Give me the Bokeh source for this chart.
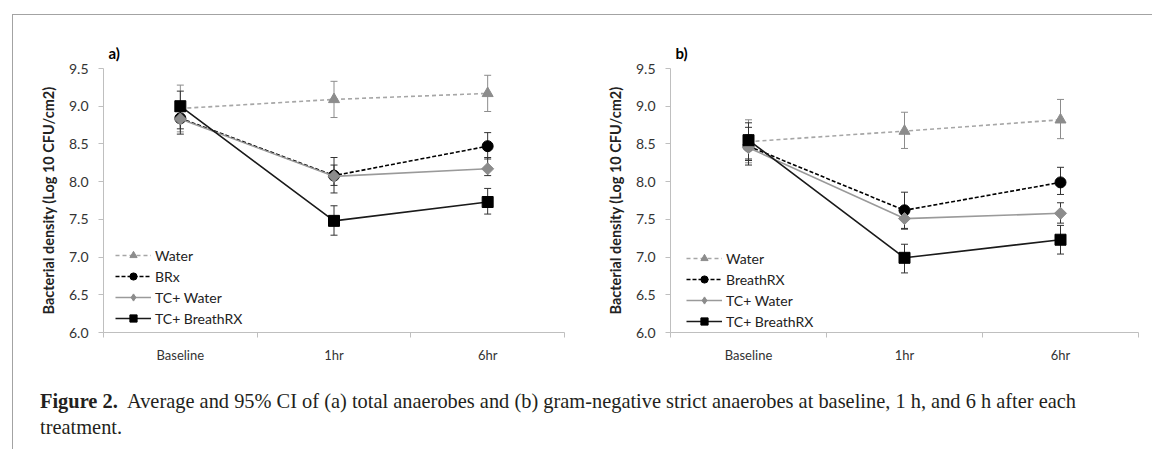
import numpy as np
from bokeh.plotting import figure
from bokeh.models import (Range1d, FixedTicker, Legend, LegendItem, ColumnDataSource,
                          Whisker, TeeHead, Div, PrintfTickFormatter)
from bokeh.layouts import row, column
from bokeh.embed import file_html
from bokeh.resources import INLINE

# ---------------- data ----------------
categories = ["Baseline", "1hr", "6hr"]
y_ticks = [6.0, 6.5, 7.0, 7.5, 8.0, 8.5, 9.0, 9.5]

names_a = ["Water", "BRx", "TC+ Water", "TC+ BreathRX"]
names_b = ["Water", "BreathRX", "TC+ Water", "TC+ BreathRX"]

# panel a) total anaerobes
a_water = [8.97, 9.09, 9.17]
a_water_lo = [8.66, 8.85, 8.93]
a_water_hi = [9.28, 9.33, 9.41]
a_brx = [8.84, 8.08, 8.47]
a_brx_lo = [8.63, 7.85, 8.30]
a_brx_hi = [9.05, 8.32, 8.65]
a_tcw = [8.83, 8.07, 8.17]
a_tcw_lo = [8.70, 7.95, 8.08]
a_tcw_hi = [8.96, 8.22, 8.32]
a_tcb = [9.00, 7.48, 7.73]
a_tcb_lo = [8.80, 7.29, 7.57]
a_tcb_hi = [9.20, 7.68, 7.91]

# panel b) gram-negative strict anaerobes
b_water = [8.53, 8.67, 8.82]
b_water_lo = [8.25, 8.44, 8.57]
b_water_hi = [8.82, 8.92, 9.09]
b_brx = [8.47, 7.62, 7.99]
b_brx_lo = [8.22, 7.38, 7.83]
b_brx_hi = [8.72, 7.86, 8.19]
b_tcw = [8.45, 7.51, 7.58]
b_tcw_lo = [8.28, 7.37, 7.45]
b_tcw_hi = [8.62, 7.64, 7.72]
b_tcb = [8.55, 6.99, 7.23]
b_tcb_lo = [8.30, 6.79, 7.04]
b_tcb_hi = [8.78, 7.17, 7.42]

caption_bold = "Figure 2."
caption_line1 = ("Average and 95% CI of (a) total anaerobes and (b) gram-negative strict "
                 "anaerobes at baseline, 1 h, and 6 h after each")
caption_line2 = "treatment."

# ---------------- styles ----------------
STYLES = [
    dict(line_color="#a6a6a6", line_dash="4 3", marker="triangle", size=11, angle=0.0,
         fill="#8c8c8c", err="#8c8c8c"),
    dict(line_color="#000000", line_dash="4 2", marker="circle", size=11, angle=0.0,
         fill="#000000", err="#333333"),
    dict(line_color="#9a9a9a", line_dash="solid", marker="square", size=8.5, angle=np.pi / 4,
         fill="#8c8c8c", err="#333333"),
    dict(line_color="#1a1a1a", line_dash="solid", marker="square", size=11, angle=0.0,
         fill="#000000", err="#333333"),
]

FONT = "Lato"
TXT = "#333333"
AXC = "#bfbfbf"
FRAME = "#a3a3a3"


def make_panel(letter, names, series, width, b_left, b_right, b_top, b_bottom, leg_loc):
    p = figure(width=width, height=355, x_range=Range1d(0, len(categories)),
               y_range=Range1d(y_ticks[0], y_ticks[-1]), output_backend="svg",
               toolbar_location=None, min_border_left=b_left, min_border_right=b_right,
               min_border_top=b_top, min_border_bottom=b_bottom, title=letter)
    p.title.align = "left"
    p.title.offset = 5
    p.title.standoff = 13
    p.title.text_font = FONT
    p.title.text_font_size = "15px"
    p.title.text_font_style = "bold"
    p.title.text_color = "#000000"
    p.outline_line_color = None
    p.xgrid.visible = False
    p.ygrid.visible = False

    xs = list(np.arange(len(categories)) + 0.5)

    # axes
    p.xaxis.ticker = FixedTicker(ticks=xs, minor_ticks=list(range(len(categories) + 1)))
    p.xaxis.major_label_overrides = {x: c for x, c in zip(xs, categories)}
    p.xaxis.major_tick_out = 0
    p.xaxis.major_tick_in = 0
    p.xaxis.minor_tick_out = 5
    p.xaxis.minor_tick_in = 0
    p.xaxis.minor_tick_line_color = AXC
    p.xaxis.axis_line_color = AXC
    p.xaxis.major_label_standoff = 9
    p.xaxis.major_label_text_font = FONT
    p.xaxis.major_label_text_font_size = "13px"
    p.xaxis.major_label_text_color = TXT

    p.yaxis.ticker = FixedTicker(ticks=y_ticks, minor_ticks=[])
    p.yaxis.formatter = PrintfTickFormatter(format="%.1f")
    p.yaxis.major_tick_out = 5
    p.yaxis.major_tick_in = 0
    p.yaxis.major_tick_line_color = AXC
    p.yaxis.axis_line_color = AXC
    p.yaxis.major_label_standoff = 10
    p.yaxis.major_label_text_font = FONT
    p.yaxis.major_label_text_font_size = "14px"
    p.yaxis.major_label_text_color = TXT
    p.yaxis.axis_label = "Bacterial density (Log 10 CFU/cm2)"
    p.yaxis.axis_label_text_font = FONT
    p.yaxis.axis_label_text_font_size = "14.5px"
    p.yaxis.axis_label_text_font_style = "bold"
    p.yaxis.axis_label_text_color = "#222222"
    p.yaxis.axis_label_standoff = 9

    items = []
    for name, (m, lo, hi), st in zip(names, series, STYLES):
        src = ColumnDataSource(dict(x=xs, y=m, lo=lo, hi=hi))
        w = Whisker(source=src, base="x", upper="hi", lower="lo", dimension="height",
                    line_color=st["err"], line_width=1, level="underlay",
                    upper_head=TeeHead(size=7, line_color=st["err"], line_width=1),
                    lower_head=TeeHead(size=7, line_color=st["err"], line_width=1))
        p.add_layout(w)
        lr = p.line("x", "y", source=src, line_color=st["line_color"], line_width=1.6,
                    line_dash=st["line_dash"])
        if st["angle"] != 0.0:
            # narrow diamond underneath (fully covered), used as the legend symbol
            lm = p.scatter("x", "y", source=src, marker="diamond", size=10,
                           fill_color=st["fill"], line_color=st["fill"])
        p_sr = p.scatter("x", "y", source=src, marker=st["marker"], size=st["size"],
                         angle=st["angle"], fill_color=st["fill"], line_color=st["fill"])
        if st["angle"] == 0.0:
            lm = p_sr
        items.append(LegendItem(label=name, renderers=[lr, lm]))

    leg = Legend(items=items, location=leg_loc, orientation="vertical",
                 glyph_width=36, glyph_height=18, label_height=18, spacing=3,
                 padding=0, margin=0, label_standoff=4,
                 border_line_alpha=0, background_fill_alpha=0,
                 label_text_font=FONT, label_text_font_size="14px",
                 label_text_color="#222222")
    p.add_layout(leg)
    return p


pa = make_panel("a)", names_a,
                [(a_water, a_water_lo, a_water_hi), (a_brx, a_brx_lo, a_brx_hi),
                 (a_tcw, a_tcw_lo, a_tcw_hi), (a_tcb, a_tcb_lo, a_tcb_hi)],
                567, 90, 16, 51, 38, (12, 5))
pb = make_panel("b)", names_b,
                [(b_water, b_water_lo, b_water_hi), (b_brx, b_brx_lo, b_brx_hi),
                 (b_tcw, b_tcw_lo, b_tcw_hi), (b_tcb, b_tcb_lo, b_tcb_hi)],
                565, 90, 7, 53, 37, (16, 2))

cap_html = (
    '<div style="font-family:\'Liberation Serif\',serif; font-size:20.4px; line-height:26px; '
    'color:#231f20; padding:18px 0 0 27px; white-space:nowrap;">'
    '<div><b style="margin-right:0.45em;">' + caption_bold + '</b>'
    '<span>' + caption_line1 + '</span></div>'
    '<div>' + caption_line2 + '</div></div>'
)
cap = Div(text=cap_html, width=1132, height=78, margin=0)

top_line = Div(width=1140, height=1, margin=0, styles={"background-color": FRAME})
left_line = Div(width=1, height=434, margin=0, styles={"background-color": FRAME})

root = column(top_line,
              row(left_line, column(row(pa, pb), cap)),
              margin=(14, 0, 0, 12))

open("out.html", "w").write(file_html(root, INLINE))
